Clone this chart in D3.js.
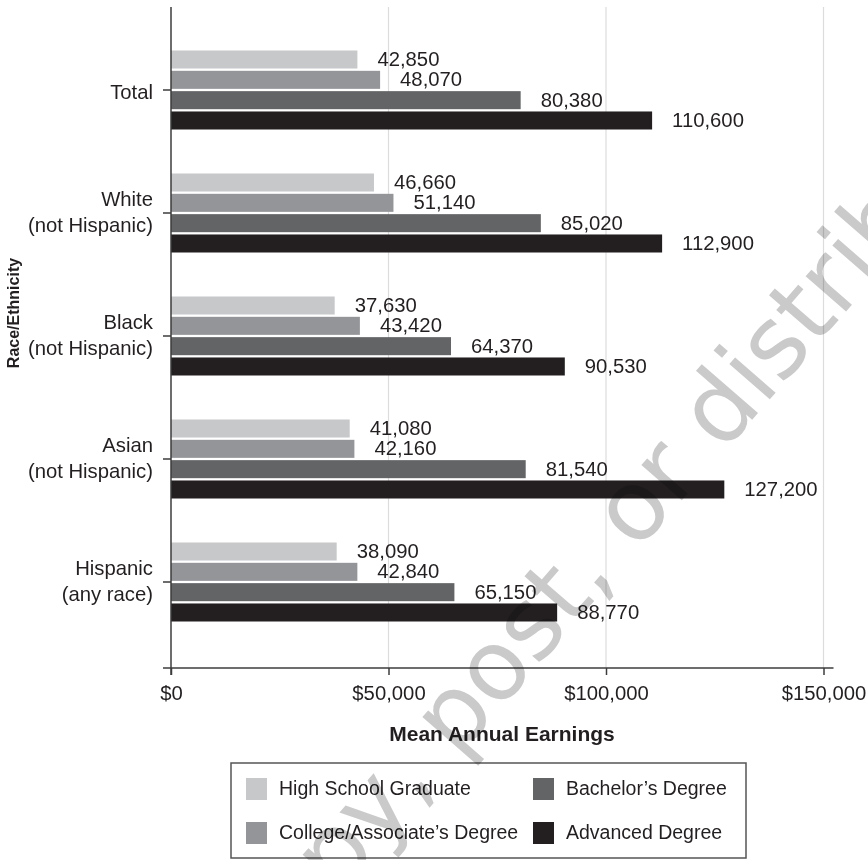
<!DOCTYPE html>
<html>
<head>
<meta charset="utf-8">
<script src="https://cdn.jsdelivr.net/npm/d3@7/dist/d3.min.js"></script>
<style>
  html, body { margin: 0; padding: 0; background: #fff; }
  svg { display: block; }
  text { font-family: "Liberation Sans", Arial, Helvetica, sans-serif; fill: #231f20; }
</style>
</head>
<body>
<svg id="chart" width="868" height="860"></svg>
<script>
// Mean annual earnings by race/ethnicity and education level
const categories = ["Total", "White|(not Hispanic)", "Black|(not Hispanic)", "Asian|(not Hispanic)", "Hispanic|(any race)"];
const seriesNames = ["High School Graduate", "College/Associate\u2019s Degree", "Bachelor\u2019s Degree", "Advanced Degree"];
const highSchool = [42850, 46660, 37630, 41080, 38090];
const college    = [48070, 51140, 43420, 42160, 42840];
const bachelor   = [80380, 85020, 64370, 81540, 65150];
const advanced   = [110600, 112900, 90530, 127200, 88770];
const xTicks = [0, 50000, 100000, 150000];
const seriesColors = ["#c7c8ca", "#939598", "#636466", "#231f20"];

const seriesValues = [highSchool, college, bachelor, advanced];

const svg = d3.select("#chart");
const ink = "#231f20";
const axisInk = "#3c3c3c";
const fontSize = 20.3;

const x = d3.scaleLinear().domain([0, 150000]).range([171, 823.5]);
const y = d3.scaleBand().domain(categories).range([28.5, 643.5]).paddingInner(0).paddingOuter(0);
const inner = d3.scaleBand().domain(seriesNames).range([0, 79]).paddingInner(0.113).paddingOuter(0);
const barTop = (cat, s) => y(cat) + y.bandwidth() / 2 - 39.5 + inner(s);

const plotTop = 7, axisY = 668;

// light vertical gridlines
svg.append("g").selectAll("line")
  .data(xTicks.filter(d => d > 0))
  .join("line")
  .attr("x1", d => x(d)).attr("x2", d => x(d))
  .attr("y1", plotTop).attr("y2", axisY)
  .attr("stroke", "#dcdcdc").attr("stroke-width", 1.2);

// bars and value labels
const rows = [];
categories.forEach((c, ci) => {
  seriesNames.forEach((s, si) => rows.push({ cat: c, series: s, si, value: seriesValues[si][ci] }));
});

svg.append("g").selectAll("rect")
  .data(rows)
  .join("rect")
  .attr("x", x(0))
  .attr("y", d => barTop(d.cat, d.series))
  .attr("width", d => x(d.value) - x(0))
  .attr("height", inner.bandwidth())
  .attr("fill", d => seriesColors[d.si]);

svg.append("g").selectAll("text")
  .data(rows)
  .join("text")
  .attr("x", d => x(d.value) + 20)
  .attr("y", d => barTop(d.cat, d.series) + inner.bandwidth() - 2.5)
  .attr("font-size", fontSize)
  .text(d => d3.format(",")(d.value));

// x axis
const xAxis = d3.axisBottom(x)
  .tickValues(xTicks)
  .tickFormat(d => "$" + d3.format(",")(d))
  .tickSize(7)
  .tickSizeOuter(0);
const gx = svg.append("g").attr("transform", `translate(0,${axisY})`).call(xAxis);
gx.select(".domain").remove();
gx.selectAll(".tick line").attr("stroke", axisInk).attr("stroke-width", 1.5);
gx.selectAll(".tick text")
  .attr("y", 32).attr("dy", null)
  .attr("font-size", fontSize)
  .attr("font-family", "'Liberation Sans', Arial, Helvetica, sans-serif")
  .attr("fill", ink);
gx.append("line")
  .attr("x1", x(0) - 8).attr("x2", x(150000) + 10)
  .attr("y1", 0).attr("y2", 0)
  .attr("stroke", axisInk).attr("stroke-width", 1.5);

// y axis
const yAxis = d3.axisLeft(y).tickSize(8).tickSizeOuter(0).tickFormat(() => "");
const gy = svg.append("g").attr("transform", `translate(${x(0)},0)`).call(yAxis);
gy.select(".domain").remove();
gy.selectAll(".tick line").attr("stroke", axisInk).attr("stroke-width", 1.5);
gy.selectAll(".tick text").remove();
gy.selectAll(".tick").each(function (d) {
  const lines = d.split("|");
  const t = d3.select(this).append("text")
    .attr("text-anchor", "end")
    .attr("font-size", fontSize)
    .attr("x", -18);
  if (lines.length === 1) {
    t.append("tspan").attr("x", -18).attr("y", 9.3).text(lines[0]);
  } else {
    t.append("tspan").attr("x", -18).attr("y", -6.6).text(lines[0]);
    t.append("tspan").attr("x", -18).attr("y", 19).text(lines[1]);
  }
});
gy.append("line")
  .attr("x1", 0).attr("x2", 0)
  .attr("y1", plotTop).attr("y2", axisY + 7)
  .attr("stroke", axisInk).attr("stroke-width", 1.5);

// axis titles
svg.append("text")
  .attr("x", 502).attr("y", 741)
  .attr("text-anchor", "middle")
  .attr("font-size", 21).attr("font-weight", "bold")
  .text("Mean Annual Earnings");

svg.append("text")
  .attr("transform", "translate(19,313) rotate(-90)")
  .attr("text-anchor", "middle")
  .attr("font-size", 16).attr("font-weight", "bold")
  .text("Race/Ethnicity");

// legend
const legend = svg.append("g");
legend.append("rect")
  .attr("x", 231).attr("y", 763).attr("width", 515).attr("height", 95)
  .attr("fill", "#fff").attr("stroke", "#555").attr("stroke-width", 1.5);
const legendPos = [
  { col: 246, row: 778 }, { col: 246, row: 822 },
  { col: 533, row: 778 }, { col: 533, row: 822 }
];
seriesNames.forEach((s, i) => {
  const p = legendPos[i];
  legend.append("rect")
    .attr("x", p.col).attr("y", p.row).attr("width", 21).attr("height", 22)
    .attr("fill", seriesColors[i]);
  legend.append("text")
    .attr("x", p.col + 33).attr("y", p.row + 17)
    .attr("font-size", 19.5)
    .text(s);
});

// diagonal watermark
const wmText = "Do not copy, post, or distribute";
const wm = svg.append("g")
  .attr("transform", "translate(636,512) rotate(-49)")
  .style("mix-blend-mode", "multiply");
const wmNode = wm.append("text")
  .attr("font-size", 98)
  .style("font-family", "'DejaVu Sans', Verdana, sans-serif")
  .style("fill", "#cacaca")
  .text(wmText);
const idx = wmText.indexOf("or d");
const before = wmNode.node().getSubStringLength(0, idx);
const oWidth = wmNode.node().getSubStringLength(idx, 1);
wmNode.attr("x", -(before + oWidth / 2)).attr("y", 27);
</script>
</body>
</html>
